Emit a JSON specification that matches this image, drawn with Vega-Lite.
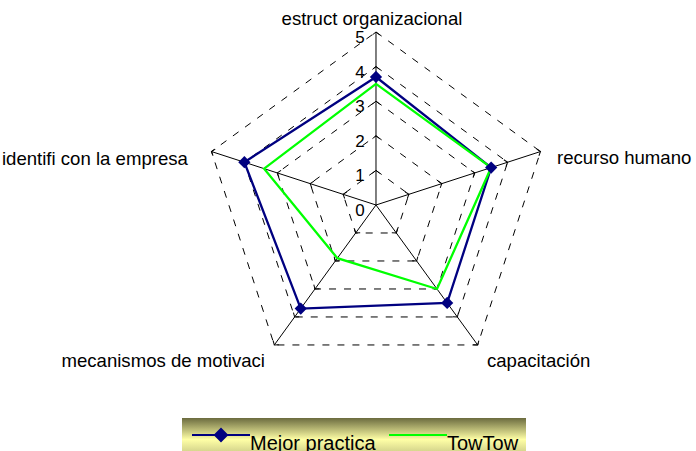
{
  "$schema": "https://vega.github.io/schema/vega-lite/v6.json",
  "width": 696,
  "height": 451,
  "autosize": {"type": "none"},
  "padding": 0,
  "background": "white",
  "config": {
    "view": {"stroke": null},
    "font": "Liberation Sans",
    "legend": {
      "orient": "none",
      "legendX": 182,
      "legendY": 418,
      "direction": "horizontal",
      "padding": 7,
      "labelFont": "Liberation Sans",
      "labelFontSize": 20,
      "labelColor": "#000000",
      "labelLimit": 400,
      "symbolSize": 100,
      "labelOffset": 41,
      "columnPadding": 9,
      "symbolStrokeWidth": 2
    }
  },
  "datasets": {
    "ejes": [
      {"eje": "estruct organizacional", "k": 0, "marcas": [1, 2, 3, 4, 5]},
      {"eje": "recurso humano", "k": 1, "marcas": [1, 2, 3, 4, 5]},
      {"eje": "capacitación", "k": 2, "marcas": [1, 2, 3, 4, 5]},
      {"eje": "mecanismos de motivaci", "k": 3, "marcas": [1, 2, 3, 4, 5]},
      {"eje": "identifi con la empresa", "k": 4, "marcas": [1, 2, 3, 4, 5]}
    ],
    "valores": [
      {"serie": "Mejor practica", "eje": "estruct organizacional", "k": 0, "valor": 3.7},
      {"serie": "Mejor practica", "eje": "recurso humano", "k": 1, "valor": 3.5},
      {"serie": "Mejor practica", "eje": "capacitación", "k": 2, "valor": 3.5},
      {"serie": "Mejor practica", "eje": "mecanismos de motivaci", "k": 3, "valor": 3.7},
      {"serie": "Mejor practica", "eje": "identifi con la empresa", "k": 4, "valor": 4.0},
      {"serie": "TowTow", "eje": "estruct organizacional", "k": 0, "valor": 3.5},
      {"serie": "TowTow", "eje": "recurso humano", "k": 1, "valor": 3.5},
      {"serie": "TowTow", "eje": "capacitación", "k": 2, "valor": 3.0},
      {"serie": "TowTow", "eje": "mecanismos de motivaci", "k": 3, "valor": 1.9},
      {"serie": "TowTow", "eje": "identifi con la empresa", "k": 4, "valor": 3.4}
    ],
    "niveles": [
      {"nivel": 0}, {"nivel": 1}, {"nivel": 2}, {"nivel": 3}, {"nivel": 4}, {"nivel": 5}
    ]
  },
  "encoding": {
    "x": {"field": "px", "type": "quantitative", "scale": {"domain": [-10.867, 9.249], "nice": false, "zero": false}, "axis": null},
    "y": {"field": "py", "type": "quantitative", "scale": {"domain": [-7.11, 5.925], "nice": false, "zero": false}, "axis": null}
  },
  "layer": [
    {
      "data": {"name": "ejes"},
      "transform": [
        {"flatten": ["marcas"]},
        {"calculate": "datum.k*2*PI/5", "as": "ang"},
        {"calculate": "datum.marcas*sin(datum.ang)", "as": "px"},
        {"calculate": "datum.marcas*cos(datum.ang)", "as": "py"}
      ],
      "mark": {"type": "line", "interpolate": "linear-closed", "color": "#000000", "strokeWidth": 1, "strokeDash": [7, 8]},
      "encoding": {
        "detail": {"field": "marcas", "type": "nominal"},
        "order": {"field": "k", "type": "quantitative"}
      }
    },
    {
      "data": {"name": "ejes"},
      "transform": [
        {"calculate": "datum.k*2*PI/5", "as": "ang"},
        {"calculate": "0", "as": "px"},
        {"calculate": "0", "as": "py"},
        {"calculate": "5*sin(datum.ang)", "as": "ex"},
        {"calculate": "5*cos(datum.ang)", "as": "ey"}
      ],
      "mark": {"type": "rule", "color": "#000000", "strokeWidth": 1},
      "encoding": {
        "x2": {"field": "ex"},
        "y2": {"field": "ey"}
      }
    },
    {
      "data": {"name": "ejes"},
      "transform": [
        {"flatten": ["marcas"]},
        {"calculate": "datum.k*2*PI/5", "as": "ang"},
        {"calculate": "datum.k*72", "as": "deg"},
        {"calculate": "datum.marcas*sin(datum.ang)", "as": "px"},
        {"calculate": "datum.marcas*cos(datum.ang)", "as": "py"}
      ],
      "mark": {"type": "point", "shape": "M-1,0.8L0,0L1,0.8", "filled": false, "color": "#000000", "strokeWidth": 1, "size": 50, "opacity": 1},
      "encoding": {
        "angle": {"field": "deg", "type": "quantitative", "scale": null}
      }
    },
    {
      "data": {"name": "valores"},
      "transform": [
        {"calculate": "datum.k*2*PI/5", "as": "ang"},
        {"calculate": "datum.valor*sin(datum.ang)", "as": "px"},
        {"calculate": "datum.valor*cos(datum.ang)", "as": "py"}
      ],
      "mark": {"type": "line", "interpolate": "linear-closed", "strokeWidth": 2.3},
      "encoding": {
        "color": {
          "field": "serie", "type": "nominal",
          "scale": {"domain": ["Mejor practica", "TowTow"], "range": ["#000080", "#00ff00"]},
          "legend": {
            "title": null,
            "encode": {
              "legend": {"update": {"fill": {"value": {"gradient": "linear", "x1": 0, "y1": 0, "x2": 0, "y2": 1, "stops": [{"offset": 0, "color": "#6b6b3f"}, {"offset": 0.5, "color": "#ffffa6"}, {"offset": 1, "color": "#b4b478"}]}}}},
              "symbols": {"update": {
                "shape": {"signal": "datum.value === 'Mejor practica' ? 'M-1.4,0L10.2,0M3.2,0L4.4,-1.2L5.6,0L4.4,1.2Z' : 'M-1.4,0L10.2,0'"},
                "fill": {"signal": "datum.value === 'Mejor practica' ? '#000080' : 'transparent'"},
                "strokeWidth": {"value": 2}
              }},
              "labels": {"update": {"dy": {"value": 9}}}
            }
          }
        },
        "order": {"field": "k", "type": "quantitative"}
      }
    },
    {
      "data": {"name": "valores"},
      "transform": [
        {"filter": "datum.serie === 'Mejor practica'"},
        {"calculate": "datum.k*2*PI/5", "as": "ang"},
        {"calculate": "datum.valor*sin(datum.ang)", "as": "px"},
        {"calculate": "datum.valor*cos(datum.ang)", "as": "py"}
      ],
      "mark": {"type": "point", "shape": "diamond", "filled": true, "color": "#000080", "size": 150, "opacity": 1}
    },
    {
      "data": {"name": "niveles"},
      "transform": [
        {"calculate": "0", "as": "px"},
        {"calculate": "datum.nivel", "as": "py"}
      ],
      "mark": {"type": "text", "dx": -16, "dy": 6, "fontSize": 17, "align": "center", "baseline": "middle", "color": "#000000", "font": "Liberation Sans"},
      "encoding": {"text": {"field": "nivel", "type": "quantitative"}}
    },
    {
      "data": {"name": "ejes"},
      "transform": [
        {"filter": "datum.k === 0"},
        {"calculate": "datum.k*2*PI/5", "as": "ang"},
        {"calculate": "5*sin(datum.ang)", "as": "px"},
        {"calculate": "5*cos(datum.ang)", "as": "py"}
      ],
      "mark": {"type": "text", "align": "center", "baseline": "alphabetic", "dx": -4, "dy": -7, "fontSize": 18.6, "color": "#000000", "font": "Liberation Sans"},
      "encoding": {"text": {"field": "eje"}}
    },
    {
      "data": {"name": "ejes"},
      "transform": [
        {"filter": "datum.k === 1"},
        {"calculate": "datum.k*2*PI/5", "as": "ang"},
        {"calculate": "5*sin(datum.ang)", "as": "px"},
        {"calculate": "5*cos(datum.ang)", "as": "py"}
      ],
      "mark": {"type": "text", "align": "left", "baseline": "alphabetic", "dx": 16.5, "dy": 12.5, "fontSize": 18.6, "color": "#000000", "font": "Liberation Sans"},
      "encoding": {"text": {"field": "eje"}}
    },
    {
      "data": {"name": "ejes"},
      "transform": [
        {"filter": "datum.k === 2"},
        {"calculate": "datum.k*2*PI/5", "as": "ang"},
        {"calculate": "5*sin(datum.ang)", "as": "px"},
        {"calculate": "5*cos(datum.ang)", "as": "py"}
      ],
      "mark": {"type": "text", "align": "left", "baseline": "alphabetic", "dx": 9.3, "dy": 22, "fontSize": 18.6, "color": "#000000", "font": "Liberation Sans"},
      "encoding": {"text": {"field": "eje"}}
    },
    {
      "data": {"name": "ejes"},
      "transform": [
        {"filter": "datum.k === 3"},
        {"calculate": "datum.k*2*PI/5", "as": "ang"},
        {"calculate": "5*sin(datum.ang)", "as": "px"},
        {"calculate": "5*cos(datum.ang)", "as": "py"}
      ],
      "mark": {"type": "text", "align": "right", "baseline": "alphabetic", "dx": -9.3, "dy": 22, "fontSize": 18.6, "color": "#000000", "font": "Liberation Sans"},
      "encoding": {"text": {"field": "eje"}}
    },
    {
      "data": {"name": "ejes"},
      "transform": [
        {"filter": "datum.k === 4"},
        {"calculate": "datum.k*2*PI/5", "as": "ang"},
        {"calculate": "5*sin(datum.ang)", "as": "px"},
        {"calculate": "5*cos(datum.ang)", "as": "py"}
      ],
      "mark": {"type": "text", "align": "right", "baseline": "alphabetic", "dx": -23.5, "dy": 13.5, "fontSize": 18.6, "color": "#000000", "font": "Liberation Sans"},
      "encoding": {"text": {"field": "eje"}}
    }
  ]
}
